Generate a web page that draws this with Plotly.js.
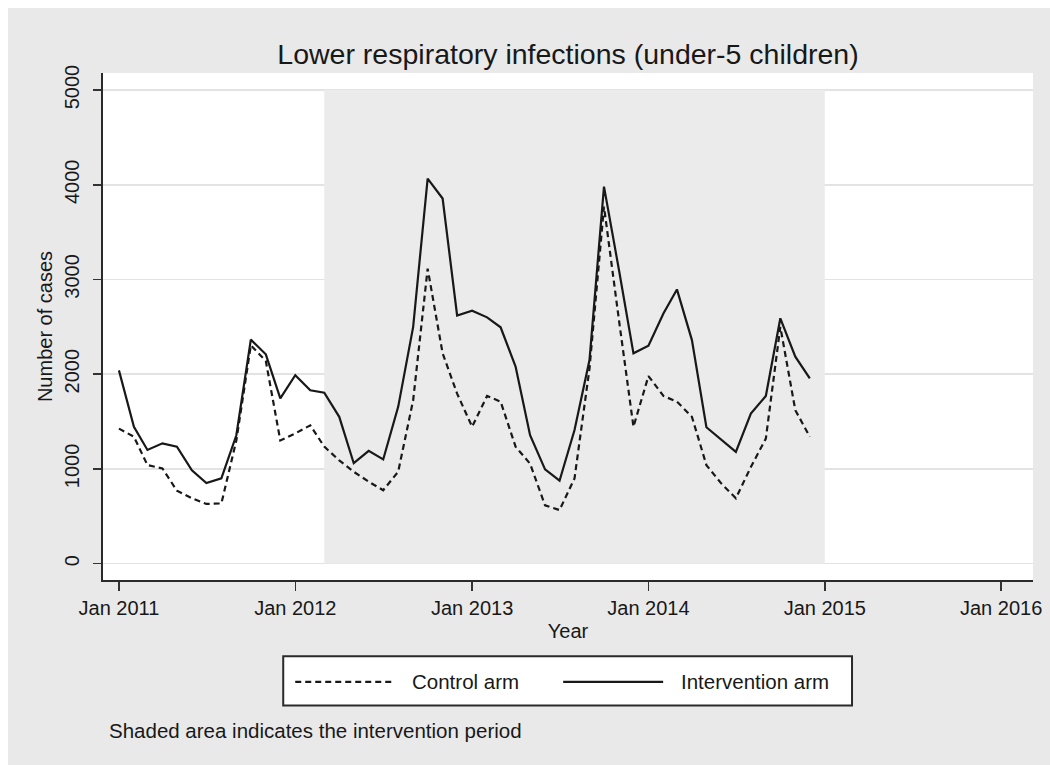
<!DOCTYPE html>
<html>
<head>
<meta charset="utf-8">
<script src="https://cdn.plot.ly/plotly-3.0.1.min.js"></script>
<style>
  html, body { margin: 0; padding: 0; background: #ffffff; }
  #chart { position: absolute; left: 8px; top: 8px; width: 1042px; height: 757px; }
</style>
</head>
<body>
<div id="chart"></div>
<script>
// Monthly observations, Jan 2011 – Dec 2014
const months = [
  '2011-01-01','2011-02-01','2011-03-01','2011-04-01','2011-05-01','2011-06-01',
  '2011-07-01','2011-08-01','2011-09-01','2011-10-01','2011-11-01','2011-12-01',
  '2012-01-01','2012-02-01','2012-03-01','2012-04-01','2012-05-01','2012-06-01',
  '2012-07-01','2012-08-01','2012-09-01','2012-10-01','2012-11-01','2012-12-01',
  '2013-01-01','2013-02-01','2013-03-01','2013-04-01','2013-05-01','2013-06-01',
  '2013-07-01','2013-08-01','2013-09-01','2013-10-01','2013-11-01','2013-12-01',
  '2014-01-01','2014-02-01','2014-03-01','2014-04-01','2014-05-01','2014-06-01',
  '2014-07-01','2014-08-01','2014-09-01','2014-10-01','2014-11-01','2014-12-01'
];

const controlArm = [
  1425, 1340, 1040, 1005, 770, 690, 630, 635, 1300, 2305, 2140, 1300,
  1375, 1460, 1235, 1090, 970, 865, 775, 970, 1725, 3115, 2220, 1795,
  1445, 1770, 1710, 1235, 1055, 615, 565, 900, 2060, 3770, 2570, 1445,
  1980, 1770, 1710, 1550, 1040, 845, 690, 1020, 1320, 2500, 1620, 1340
];

const interventionArm = [
  2040, 1445, 1200, 1270, 1235, 985, 850, 900, 1355, 2365, 2210, 1745,
  1990, 1830, 1805, 1550, 1060, 1190, 1100, 1655, 2500, 4065, 3855, 2620,
  2670, 2600, 2495, 2080, 1355, 995, 875, 1410, 2150, 3980, 3100, 2220,
  2300, 2640, 2895, 2360, 1440, 1305, 1180, 1585, 1770, 2590, 2185, 1955
];

const xTickVals = ['2011-01-01','2012-01-01','2013-01-01','2014-01-01','2015-01-01','2016-01-01'];
const xTickText = ['Jan 2011','Jan 2012','Jan 2013','Jan 2014','Jan 2015','Jan 2016'];
const yTickVals = [0, 1000, 2000, 3000, 4000, 5000];
const yTickText = ['0','1000','2000','3000','4000','5000'];

const interventionPeriod = ['2012-03-01', '2015-01-01'];
const seriesNames = ['Control arm', 'Intervention arm'];
const titleText = 'Lower respiratory infections (under-5 children)';
const noteText = 'Shaded area indicates the intervention period';

const FONT = 'Liberation Sans, Arial, Helvetica, sans-serif';
const INK = '#181818';
const DASH = '6px,4px';

const traces = [
  {
    x: months, y: controlArm, name: seriesNames[0], type: 'scatter', mode: 'lines',
    line: { color: INK, width: 2.2, dash: DASH }, showlegend: false
  },
  {
    x: months, y: interventionArm, name: seriesNames[1], type: 'scatter', mode: 'lines',
    line: { color: INK, width: 2.2 }, showlegend: false
  }
];

// legend geometry (paper coordinates)
const lgBox = { x0: 0.1938, x1: 0.8054, y0: -0.1506, y1: -0.2473 };
const lgY = -0.2009;

const layout = {
  width: 1042, height: 757,
  paper_bgcolor: '#e9e9e9',
  plot_bgcolor: '#ffffff',
  margin: { l: 95, r: 17, t: 65, b: 185, pad: 0 },
  font: { family: FONT, color: INK, size: 20 },
  title: {
    text: titleText,
    font: { family: FONT, size: 28.5, color: INK },
    x: 0.5, xref: 'paper', xanchor: 'center',
    y: 0.939, yref: 'container', yanchor: 'middle'
  },
  xaxis: {
    type: 'date',
    range: ['2010-11-29', '2016-03-07'],
    tickmode: 'array', tickvals: xTickVals, ticktext: xTickText,
    ticks: 'outside', ticklen: 9, tickwidth: 1.5, tickcolor: '#333',
    showline: true, linecolor: '#2a2a2a', linewidth: 2,
    showgrid: false, zeroline: false,
    tickfont: { family: FONT, size: 20, color: INK },
    title: { text: 'Year', font: { family: FONT, size: 20, color: INK }, standoff: 6 }
  },
  yaxis: {
    range: [-173, 5180],
    tickmode: 'array', tickvals: yTickVals, ticktext: yTickText,
    tickangle: -90,
    ticks: 'outside', ticklen: 8, tickwidth: 1.5, tickcolor: '#333',
    ticklabelstandoff: 6,
    showline: true, linecolor: '#2a2a2a', linewidth: 2,
    showgrid: true, gridcolor: '#e3e3e3', gridwidth: 1.5,
    zeroline: false,
    tickfont: { family: FONT, size: 20, color: INK },
    title: { text: 'Number of cases', font: { family: FONT, size: 20, color: INK }, standoff: 3 }
  },
  shapes: [
    {
      type: 'rect', xref: 'x', yref: 'y', layer: 'between',
      x0: interventionPeriod[0], x1: interventionPeriod[1], y0: 0, y1: 5000,
      fillcolor: '#ebebeb', line: { width: 0 }
    },
    {
      type: 'rect', xref: 'paper', yref: 'paper', layer: 'above',
      x0: lgBox.x0, x1: lgBox.x1, y0: lgBox.y0, y1: lgBox.y1,
      fillcolor: '#ffffff', line: { color: '#2a2a2a', width: 2 }
    },
    {
      type: 'line', xref: 'paper', yref: 'paper', layer: 'above',
      x0: 0.2067, x1: 0.3121, y0: lgY, y1: lgY,
      line: { color: INK, width: 2.2, dash: DASH }
    },
    {
      type: 'line', xref: 'paper', yref: 'paper', layer: 'above',
      x0: 0.4948, x1: 0.6023, y0: lgY, y1: lgY,
      line: { color: INK, width: 2.2 }
    }
  ],
  annotations: [
    {
      text: seriesNames[0], xref: 'paper', yref: 'paper', x: 0.3303, y: lgY,
      xanchor: 'left', yanchor: 'middle', showarrow: false,
      font: { family: FONT, size: 20.5, color: INK }
    },
    {
      text: seriesNames[1], xref: 'paper', yref: 'paper', x: 0.6195, y: lgY,
      xanchor: 'left', yanchor: 'middle', showarrow: false,
      font: { family: FONT, size: 20.5, color: INK }
    },
    {
      text: noteText, xref: 'paper', yref: 'paper', x: 0.004, y: -0.2966,
      xanchor: 'left', yanchor: 'middle', showarrow: false,
      font: { family: FONT, size: 20.5, color: INK }
    }
  ]
};

Plotly.newPlot('chart', traces, layout, { displayModeBar: false, staticPlot: true });
</script>
</body>
</html>
